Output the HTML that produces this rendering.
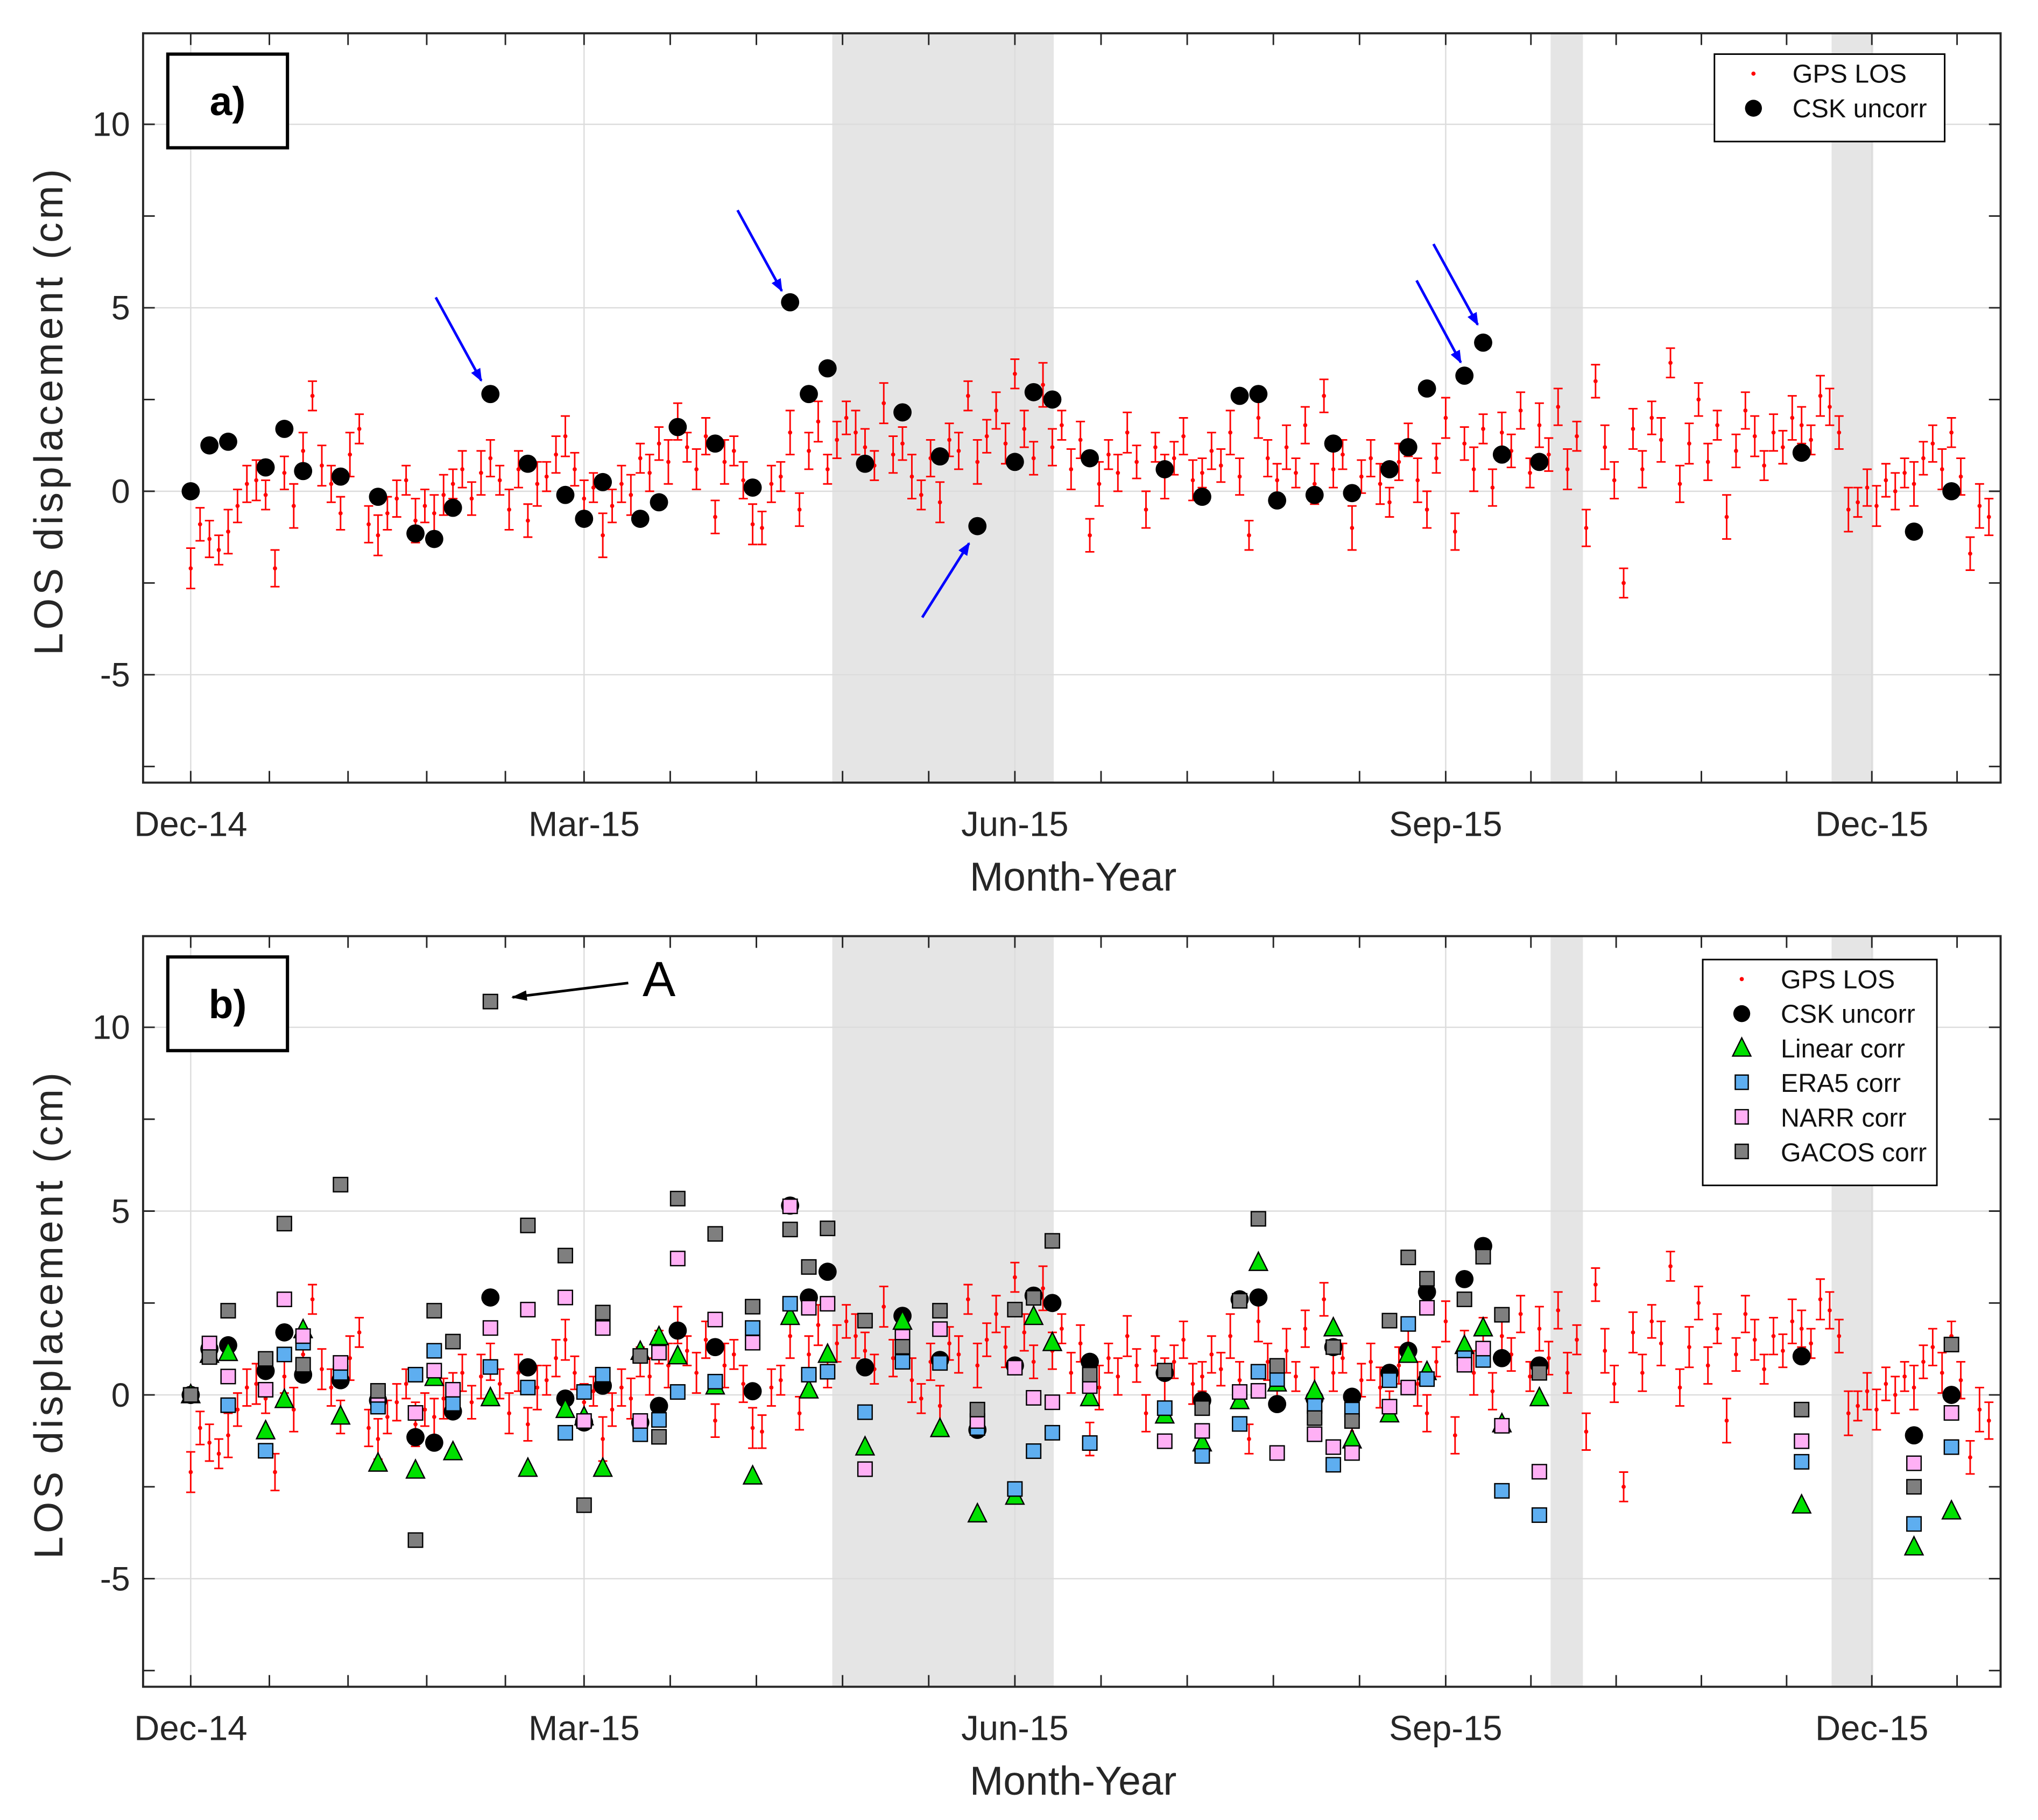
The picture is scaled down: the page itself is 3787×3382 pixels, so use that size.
<!DOCTYPE html>
<html><head><meta charset="utf-8"><style>
html,body{margin:0;padding:0;background:#fff;}
svg{display:block;font-family:"Liberation Sans","DejaVu Sans",sans-serif;}
</style></head><body>
<svg id="fig" xmlns="http://www.w3.org/2000/svg" width="3787" height="3382" viewBox="0 0 1560 1393" preserveAspectRatio="none"><g id="root" transform="translate(-1,-0.4) scale(0.9957)"></g></svg>
<script>
// ---- data ----
const tickDays = [6, 90, 182, 274, 365];
const tickLabels = ["Dec-14", "Mar-15", "Jun-15", "Sep-15", "Dec-15"];
const yTicks = [-5, 0, 5, 10];
const shadeStart = [143, 296.4, 356.4];
const shadeEnd = [190.3, 303.3, 365.3];
const cskDays = [6,10,14,22,26,30,38,46,54,58,62,70,78,86,90,94,102,106,110,118,126,134,138,142,150,158,166,174,182,186,190,198,214,222,230,234,238,246,250,254,262,266,270,278,282,286,294,350,374,382];
const cskVals = [0,1.25,1.35,0.65,1.7,0.55,0.4,-0.15,-1.15,-1.3,-0.45,2.65,0.75,-0.1,-0.75,0.25,-0.75,-0.3,1.75,1.3,0.1,5.15,2.65,3.35,0.75,2.15,0.95,-0.95,0.8,2.7,2.5,0.9,0.6,-0.15,2.6,2.65,-0.25,-0.1,1.3,-0.05,0.6,1.2,2.8,3.15,4.05,1.0,0.8,1.05,-1.1,0.0];
const linVals = [0,1.1,1.15,-0.98,-0.13,1.77,-0.58,-1.86,-2.05,0.47,-1.55,-0.08,-2.0,-0.4,-0.6,-2.0,1.18,1.58,1.06,0.24,-2.21,2.13,0.13,1.1,-1.42,2.0,-0.92,-3.24,-2.76,2.13,1.42,-0.08,-0.55,-1.31,-0.16,3.6,0.32,0.11,1.82,-1.23,-0.52,1.1,0.63,1.34,1.82,-0.79,-0.08,-3.0,-4.14,-3.16];
const eraVals = [0,1.1,-0.28,-1.52,1.1,1.42,0.6,-0.32,0.55,1.2,-0.24,0.76,0.2,-1.03,0.08,0.55,-1.07,-0.68,0.08,0.36,1.82,2.48,0.55,0.63,-0.47,0.9,0.87,-0.9,-2.56,-1.53,-1.03,-1.31,-0.36,-1.66,-0.79,0.63,0.43,-0.3,-1.9,-0.4,0.4,1.93,0.43,1.0,0.95,-2.61,-3.27,-1.82,-3.51,-1.42];
const narrVals = [0,1.4,0.5,0.14,2.6,1.6,0.87,0.0,-0.49,0.66,0.14,1.82,2.32,2.65,-0.71,1.82,-0.71,1.15,3.71,2.05,1.42,5.13,2.37,2.48,-2.02,1.58,1.79,-0.71,0.74,-0.08,-0.2,0.24,-1.26,-0.98,0.08,0.11,-1.58,-1.07,-1.42,-1.58,-0.32,0.2,2.37,0.82,1.26,-0.84,-2.09,-1.26,-1.86,-0.49];
const gacosVals = [0,1.03,2.29,0.98,4.66,0.82,5.72,0.11,-3.95,2.29,1.45,10.7,4.61,3.79,-3.0,2.24,1.06,-1.14,5.34,4.38,2.4,4.5,3.48,4.53,2.02,1.31,2.29,-0.4,2.32,2.64,4.19,0.55,0.66,-0.36,2.56,4.79,0.79,-0.63,1.3,-0.71,2.02,3.74,3.16,2.6,3.76,2.18,0.6,-0.4,-2.5,1.37];
const gpsStartDay = 6, gpsStepDays = 2;
const gpsVals = [-2.1,-0.9,-1.3,-1.6,-1.1,-0.4,0.2,0.3,-0.1,-2.1,0.5,-0.4,1.1,2.6,0.7,0.2,-0.6,1.0,1.7,-0.9,-1.2,-0.6,-0.2,0.3,-0.8,-0.4,-0.6,-0.1,0.2,0.6,-0.2,0.5,0.9,0.3,-0.5,0.6,-0.8,0.2,0.4,1.0,1.5,0.6,-0.2,0.1,-1.2,-0.4,0.2,-0.1,0.9,0.5,1.3,0.8,1.9,1.2,0.6,1.5,-0.7,0.8,1.1,0.3,-0.9,-1.0,0.2,0.4,1.6,-0.5,1.1,1.9,0.6,1.4,2.0,1.6,1.2,0.7,2.4,1.0,1.3,0.4,-0.1,0.9,-0.3,1.4,1.1,2.6,0.8,1.5,2.2,1.3,3.2,1.7,0.9,2.9,1.2,1.8,0.6,1.4,-1.2,0.2,1.0,0.5,1.6,0.8,-0.5,1.2,0.4,0.9,1.5,0.3,0.5,1.1,0.7,1.6,0.4,-1.2,2.0,0.9,0.3,1.2,0.5,1.8,0.2,2.6,0.6,1.0,-1.0,0.4,0.9,0.2,-0.3,0.8,1.4,0.3,-0.5,0.9,2.0,-1.1,1.3,0.6,1.7,0.1,1.6,1.1,2.2,0.5,1.8,1.0,2.3,0.6,1.5,-1.0,3.0,1.2,0.3,-2.5,1.7,0.6,2.0,1.4,3.5,0.2,1.3,2.5,0.8,1.8,-0.7,1.1,2.2,1.5,0.7,1.6,1.2,2.0,1.8,1.4,2.6,2.3,1.6,-0.5,-0.3,0.1,-0.4,0.3,0.0,0.5,0.2,0.9,1.3,0.6,1.6,0.4,-1.7,-0.4,-0.7];
const gpsErr = [0.55,0.45,0.5,0.4,0.6,0.45,0.5,0.55,0.4,0.5,0.45,0.6,0.5,0.4,0.55,0.5,0.45,0.6,0.4,0.5];

// ---- drawing ----
const NS = "http://www.w3.org/2000/svg";
const svg = document.getElementById("root");
function el(tag, attrs, parent, text) {
  const e = document.createElementNS(NS, tag);
  for (const k in attrs) e.setAttribute(k, attrs[k]);
  if (text !== undefined) e.textContent = text;
  (parent || svg).appendChild(e);
  return e;
}
const X0 = 111, X1 = 1539, DMIN = -4.17, DMAX = 392.5;
const YMIN = -7.94, YMAX = 12.48;
function xs(d) { return X0 + (d - DMIN) / (DMAX - DMIN) * (X1 - X0); }

const defs = el("defs", {});
const mk = el("marker", {id: "ah", markerWidth: 10, markerHeight: 10, refX: 9, refY: 5, orient: "auto", markerUnits: "userSpaceOnUse"}, defs);
el("path", {d: "M0,1 L10,5 L0,9 z", fill: "#0000ff"}, mk);
const mk2 = el("marker", {id: "ahk", markerWidth: 12, markerHeight: 10, refX: 11, refY: 5, orient: "auto", markerUnits: "userSpaceOnUse"}, defs);
el("path", {d: "M0,1 L12,5 L0,9 z", fill: "#000"}, mk2);

function panel(top, bottom, full, tag) {
  const ys = v => bottom - (v - YMIN) / (YMAX - YMIN) * (bottom - top);
  const g = el("g", {});
  
  
  el("rect", {x: X0, y: top, width: X1 - X0, height: bottom - top, fill: "#fff"}, g);
  for (let i = 0; i < shadeStart.length; i++) {
    const r = el("rect", {x: xs(shadeStart[i]), y: top, width: xs(shadeEnd[i]) - xs(shadeStart[i]), height: bottom - top, fill: "#e5e5e5"}, g);
    
    
  }
  tickDays.forEach(d => el("line", {x1: xs(d), x2: xs(d), y1: top, y2: bottom, stroke: "#dcdcdc", "stroke-width": 1}, g));
  yTicks.forEach(v => el("line", {x1: X0, x2: X1, y1: ys(v), y2: ys(v), stroke: "#dcdcdc", "stroke-width": 1}, g));
  const tks = [];
  for (let i = 0; i < tickDays.length - 1; i++) {
    const step = (tickDays[i + 1] - tickDays[i]) / 5;
    for (let k = 0; k < 5; k++) tks.push(tickDays[i] + k * step);
  }
  tks.push(tickDays[tickDays.length - 1]);
  tks.push(tickDays[tickDays.length - 1] + (tickDays[4] - tickDays[3]) / 5);
  tks.forEach(d => {
    el("line", {x1: xs(d), x2: xs(d), y1: bottom, y2: bottom - 9, stroke: "#262626", "stroke-width": 1.2}, g);
    el("line", {x1: xs(d), x2: xs(d), y1: top, y2: top + 9, stroke: "#262626", "stroke-width": 1.2}, g);
  });
  [-7.5,-2.5,2.5,7.5,12.5].concat(yTicks).forEach(v => {
    if (v > YMAX) return;
    el("line", {x1: X0, x2: X0 + 9, y1: ys(v), y2: ys(v), stroke: "#262626", "stroke-width": 1.2}, g);
    el("line", {x1: X1, x2: X1 - 9, y1: ys(v), y2: ys(v), stroke: "#262626", "stroke-width": 1.2}, g);
  });
  const gg = el("g", {}, g);
  
  
  gpsVals.forEach((v, i) => {
    const x = xs(gpsStartDay + i * gpsStepDays), e = gpsErr[i % gpsErr.length];
    const y1 = ys(v - e), y2 = ys(v + e);
    el("path", {d: `M${x},${y1}V${y2}M${x-3.5},${y1}H${x+3.5}M${x-3.5},${y2}H${x+3.5}`, stroke: "#ff0000", "stroke-width": 1.2, fill: "none"}, gg);
    el("circle", {cx: x, cy: ys(v), r: 1.6, fill: "#ff0000"}, gg);
  });
  const cg = el("g", {}, g);
  
  
  cskDays.forEach((d, i) => el("circle", {cx: xs(d), cy: ys(cskVals[i]), r: 7, fill: "#000"}, cg));
  if (full) {
    const lg = el("g", {}, g);
    
    
    cskDays.forEach((d, i) => { const x = xs(d), y = ys(linVals[i]);
      el("path", {d: `M${x},${y-8}L${x+7},${y+6}L${x-7},${y+6}z`, fill: "#00e000", stroke: "#000", "stroke-width": 1}, lg); });
    const sq = (vals, color, name) => {
      const sg = el("g", {}, g);
      
      
      cskDays.forEach((d, i) => el("rect", {x: xs(d) - 5.5, y: ys(vals[i]) - 5.5, width: 11, height: 11, fill: color, stroke: "#000", "stroke-width": 1}, sg));
    };
    sq(eraVals, "#5eaef0", "era5-corr-series");
    sq(narrVals, "#ffb0f5", "narr-corr-series");
    sq(gacosVals, "#7f7f7f", "gacos-corr-series");
  }
  el("rect", {x: X0, y: top, width: X1 - X0, height: bottom - top, fill: "none", stroke: "#262626", "stroke-width": 1.6}, g);
  yTicks.forEach(v => {
    const t = el("text", {x: 101, y: ys(v) + 9, "text-anchor": "end", "font-size": 26, fill: "#262626"}, g, String(v));
    
    
  });
  tickDays.forEach((d, i) => {
    const t = el("text", {x: xs(d), y: bottom + 41, "text-anchor": "middle", "font-size": 27, fill: "#262626"}, g, tickLabels[i]);
    
    
  });
  const xt = el("text", {x: 826, y: bottom + 83, "text-anchor": "middle", "font-size": 31, fill: "#262626"}, g, "Month-Year");
  
  
  const yc = (top + bottom) / 2 + 2;
  const yt = el("text", {x: 0, y: 0, "text-anchor": "middle", "font-size": 31, fill: "#262626", "letter-spacing": 2.5, transform: `translate(49,${yc}) rotate(-90)`}, g, "LOS displacement (cm)");
  
  
  const pl = el("g", {}, g);
  
  
  el("rect", {x: 130, y: top + 16, width: 92, height: 72, fill: "#fff", stroke: "#000", "stroke-width": 2.5}, pl);
  el("text", {x: 176, y: top + 63, "text-anchor": "middle", "font-size": 31, "font-weight": "bold"}, pl, tag + ")");
  return ys;
}

const ysA = panel(26, 602, false, "a");
const ysB = panel(720, 1297, true, "b");

function legend(x, y, w, entries) {
  const lg = el("g", {});
  
  
  const h = entries.length * 26.6 + 14;
  el("rect", {x: x, y: y, width: w, height: h, fill: "#fff", stroke: "#000", "stroke-width": 1.2}, lg);
  entries.forEach((e, i) => {
    const cy = y + 15 + i * 26.6, mx = x + 30;
    const en = el("g", {}, lg);
    
    
    if (e[1] === "dot") el("circle", {cx: mx, cy: cy, r: 1.6, fill: "#ff0000"}, en);
    else if (e[1] === "circ") el("circle", {cx: mx, cy: cy, r: 6.5, fill: "#000"}, en);
    else if (e[1] === "tri") el("path", {d: `M${mx},${cy-8}L${mx+7},${cy+6}L${mx-7},${cy+6}z`, fill: "#00e000", stroke: "#000"}, en);
    else el("rect", {x: mx - 5, y: cy - 6, width: 10, height: 11, fill: e[1], stroke: "#000"}, en);
    el("text", {x: x + 60, y: cy + 7, "font-size": 20, fill: "#111"}, en, e[0]);
  });
}
legend(1319, 42, 177, [["GPS LOS", "dot"], ["CSK uncorr", "circ"]]);
legend(1310, 738, 180, [["GPS LOS", "dot"], ["CSK uncorr", "circ"], ["Linear corr", "tri"], ["ERA5 corr", "#5eaef0"], ["NARR corr", "#ffb0f5"], ["GACOS corr", "#7f7f7f"]]);

const arrows = [[336,229,371,293],[568,162,602,224],[710,475,746,418],[1090,216,1124,279],[1103,188,1137,250]];
arrows.forEach(a => {
  const l = el("line", {x1: a[0], y1: a[1], x2: a[2], y2: a[3], stroke: "#0000ff", "stroke-width": 2, "marker-end": "url(#ah)"});
  
  
});
const la = el("line", {x1: 484, y1: 756, x2: 395, y2: 767, stroke: "#000", "stroke-width": 2, "marker-end": "url(#ahk)"});


const lt = el("text", {x: 495, y: 766, "font-size": 38, fill: "#000"}, svg, "A");


</script>
</body></html>
